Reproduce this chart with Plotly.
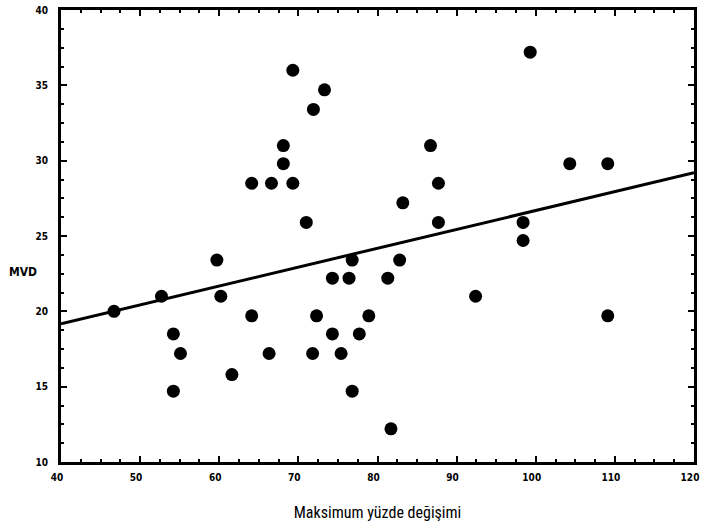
import numpy as np
import plotly.graph_objects as go

x_vals = [46.7, 52.7, 54.2, 55.1, 54.2, 59.7, 60.2, 61.6, 64.1, 64.1, 66.3, 66.6, 68.1, 68.1,
          69.3, 69.3, 71.0, 71.9, 71.8, 72.3, 73.3, 74.3, 74.3, 75.4, 76.4, 76.8, 76.8, 77.7,
          78.9, 81.3, 81.7, 82.8, 83.2, 86.7, 87.7, 87.7, 92.4, 98.4, 98.4, 99.3, 104.3, 109.1, 109.1]
y_vals = [20.0, 21.0, 18.5, 17.2, 14.7, 23.4, 21.0, 15.8, 28.5, 19.7, 17.2, 28.5, 31.0, 29.8,
          28.5, 36.0, 25.9, 33.4, 17.2, 19.7, 34.7, 22.2, 18.5, 17.2, 22.2, 23.4, 14.7, 18.5,
          19.7, 22.2, 12.2, 23.4, 27.2, 31.0, 28.5, 25.9, 21.0, 25.9, 24.7, 37.2, 29.8, 29.8, 19.7]
x_ticks = [40, 50, 60, 70, 80, 90, 100, 110, 120]
y_ticks = [10, 15, 20, 25, 30, 35, 40]

slope, intercept = np.polyfit(x_vals, y_vals, 1)
line_x = [x_ticks[0], x_ticks[-1]]
line_y = [intercept + slope * v for v in line_x]

fig = go.Figure()
fig.add_trace(go.Scatter(x=line_x, y=line_y, mode="lines",
                         line=dict(color="black", width=3), hoverinfo="skip"))
fig.add_trace(go.Scatter(x=x_vals, y=y_vals, mode="markers",
                         marker=dict(color="black", size=13, line=dict(width=0))))

tickfont = dict(family="DejaVu Sans Condensed, DejaVu Sans", size=10, color="black", weight="bold")
common = dict(showgrid=False, zeroline=False, showline=True, linecolor="black", linewidth=3,
              mirror="allticks", ticks="inside", ticklen=6, tickwidth=2, tickcolor="black",
              tickfont=tickfont, ticklabeloverflow="allow")
fig.update_layout(
    width=703, height=528, showlegend=False,
    paper_bgcolor="white", plot_bgcolor="white",
    margin=dict(l=61, r=4, t=8, b=66),
    xaxis=dict(range=[40, 120], tickvals=x_ticks, ticktext=[str(v) for v in x_ticks],
               minor=dict(ticks="inside", ticklen=3, tickwidth=2, dtick=2.5, tickcolor="black"),
               ticklabelshift=-4, ticklabelstandoff=4,
               title=dict(text="Maksimum yüzde değişimi", standoff=25,
                          font=dict(family="Roboto Condensed, Liberation Sans Narrow, Roboto", size=16, color="black")),
               **common),
    yaxis=dict(range=[10, 40], tickvals=y_ticks, ticktext=[str(v) for v in y_ticks],
               minor=dict(ticks="inside", ticklen=3, tickwidth=2, dtick=1.25, tickcolor="black"),
               ticklabelstandoff=8,
               **common),
    annotations=[dict(text="<b>MVD</b>", x=0.0, xref="paper", xanchor="right", xshift=-22,
                      y=22.6, yref="y", showarrow=False,
                      font=dict(family="DejaVu Sans Condensed, DejaVu Sans", size=12, color="black"))],
)
fig.write_html("out.html", config={"displayModeBar": False},
               post_script="document.body.style.margin='0';document.body.style.overflow='hidden';")
